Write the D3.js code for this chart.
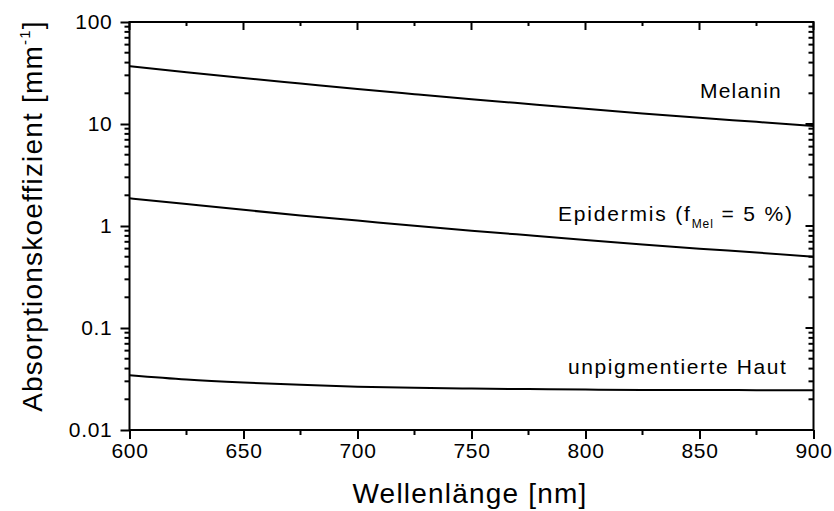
<!DOCTYPE html>
<html>
<head>
<meta charset="utf-8">
<script src="https://cdn.jsdelivr.net/npm/d3@7"></script>
<style>
  html, body { margin: 0; padding: 0; background: #fff; }
  svg { display: block; font-family: "Liberation Sans", Arial, sans-serif; }
</style>
</head>
<body>
<svg id="chart" width="834" height="511"></svg>
<script>
// Wavelength grid [nm]
const wavelengths = [600, 625, 650, 675, 700, 725, 750, 775, 800, 825, 850, 875, 900];
// Absorption coefficients [mm^-1]
const melanin = [36.8, 32.1, 28.2, 24.9, 22.0, 19.6, 17.5, 15.7, 14.1, 12.7, 11.5, 10.5, 9.56];
const epidermis = [1.87, 1.64, 1.44, 1.27, 1.13, 1.005, 0.90, 0.81, 0.73, 0.66, 0.60, 0.55, 0.50];
const unpigmented = [0.0345, 0.0313, 0.0292, 0.0277, 0.0266, 0.0259, 0.0255, 0.0252, 0.0249, 0.0247, 0.0247, 0.0246, 0.0245];

const xTicks = [600, 650, 700, 750, 800, 850, 900];
const xMinorTicks = [625, 675, 725, 775, 825, 875];
const yTicks = [0.01, 0.1, 1, 10, 100];
const yTickLabels = ["0.01", "0.1", "1", "10", "100"];

const svg = d3.select("#chart");
const plotLeft = 129.5, plotRight = 813.5, plotTop = 22, plotBottom = 430;

const x = d3.scaleLinear().domain([600, 900]).range([plotLeft, plotRight]);
const y = d3.scaleLog().domain([0.01, 100]).range([plotBottom, plotTop]);

// minor ticks for log axis: 2..9 within each decade
const yMinor = [];
for (let d = 0.01; d < 100; d *= 10) {
  for (let k = 2; k <= 9; k++) yMinor.push(+(d * k).toPrecision(3));
}

const axisColor = "#000";
const sw = 2;
const tickFont = 21;

// Bottom axis (ticks out)
const gB = svg.append("g").attr("transform", `translate(0,${plotBottom})`);
gB.call(d3.axisBottom(x).tickValues(xTicks).tickSize(9).tickFormat(d3.format("d")).tickPadding(4))
  .call(g => g.select(".domain").remove());
gB.selectAll(".tick line").attr("stroke-width", sw);
gB.selectAll(".tick text").attr("font-size", tickFont).attr("letter-spacing", 0.7)
  .attr("fill", "#000").attr("font-family", "Liberation Sans, Arial, sans-serif");
gB.selectAll(".minor").data(xMinorTicks).enter().append("line")
  .attr("x1", d => x(d)).attr("x2", d => x(d)).attr("y1", 0).attr("y2", 5)
  .attr("stroke", axisColor).attr("stroke-width", sw);

// Top axis (ticks pointing into the plot)
const gT = svg.append("g").attr("transform", `translate(0,${plotTop})`);
gT.selectAll(".maj").data(xTicks).enter().append("line")
  .attr("x1", d => x(d)).attr("x2", d => x(d)).attr("y1", 0).attr("y2", 8)
  .attr("stroke", axisColor).attr("stroke-width", sw);
gT.selectAll(".min").data(xMinorTicks).enter().append("line")
  .attr("x1", d => x(d)).attr("x2", d => x(d)).attr("y1", 0).attr("y2", 4)
  .attr("stroke", axisColor).attr("stroke-width", sw);

// Left axis (ticks out)
const gL = svg.append("g").attr("transform", `translate(${plotLeft},0)`);
gL.call(d3.axisLeft(y).tickValues(yTicks).tickSize(9).tickFormat((d, i) => yTickLabels[i]).tickPadding(8))
  .call(g => g.select(".domain").remove());
gL.selectAll(".tick line").attr("stroke-width", sw);
gL.selectAll(".tick text").attr("font-size", tickFont).attr("letter-spacing", 0.7)
  .attr("fill", "#000").attr("font-family", "Liberation Sans, Arial, sans-serif");
gL.selectAll(".minor").data(yMinor).enter().append("line")
  .attr("x1", 0).attr("x2", -5).attr("y1", d => y(d)).attr("y2", d => y(d))
  .attr("stroke", axisColor).attr("stroke-width", sw);

// Right axis (ticks pointing into the plot)
const gR = svg.append("g").attr("transform", `translate(${plotRight},0)`);
gR.selectAll(".maj").data(yTicks).enter().append("line")
  .attr("x1", 0).attr("x2", -8).attr("y1", d => y(d)).attr("y2", d => y(d))
  .attr("stroke", axisColor).attr("stroke-width", sw);
gR.selectAll(".min").data(yMinor).enter().append("line")
  .attr("x1", 0).attr("x2", -5).attr("y1", d => y(d)).attr("y2", d => y(d))
  .attr("stroke", axisColor).attr("stroke-width", sw);

// Frame
svg.append("rect")
  .attr("x", plotLeft).attr("y", plotTop).attr("width", plotRight - plotLeft).attr("height", plotBottom - plotTop)
  .attr("fill", "none").attr("stroke", axisColor).attr("stroke-width", sw);

// Curves
const line = d3.line()
  .x((d, i) => x(wavelengths[i]))
  .y(d => y(d))
  .curve(d3.curveMonotoneX);

[melanin, epidermis, unpigmented].forEach(s => {
  svg.append("path").attr("d", line(s))
    .attr("fill", "none").attr("stroke", "#000").attr("stroke-width", 2);
});

// Curve labels
const lblSize = 21;
svg.append("text").attr("x", 700).attr("y", 98)
  .attr("font-size", lblSize).attr("letter-spacing", 1.2)
  .text("Melanin");

const ep = svg.append("text").attr("x", 558).attr("y", 221)
  .attr("font-size", lblSize).attr("letter-spacing", 1.8);
ep.append("tspan").text("Epidermis (f");
ep.append("tspan").attr("font-size", 12).attr("dy", 7).attr("letter-spacing", 1).text("Mel");
ep.append("tspan").attr("dy", -7).text(" = 5 %)");

svg.append("text").attr("x", 568).attr("y", 374)
  .attr("font-size", lblSize).attr("letter-spacing", 1.6)
  .text("unpigmentierte Haut");

// Axis titles
svg.append("text").attr("x", 470).attr("y", 503)
  .attr("text-anchor", "middle").attr("font-size", 28).attr("letter-spacing", 1.2)
  .text("Wellenlänge [nm]");

const yt = svg.append("text")
  .attr("transform", `translate(42,216) rotate(-90)`)
  .attr("text-anchor", "middle").attr("font-size", 28).attr("letter-spacing", 1.2);
yt.append("tspan").text("Absorptionskoeffizient [mm");
yt.append("tspan").attr("font-size", 15).attr("dy", -12).text("-1");
yt.append("tspan").attr("dy", 12).text("]");
</script>
</body>
</html>
